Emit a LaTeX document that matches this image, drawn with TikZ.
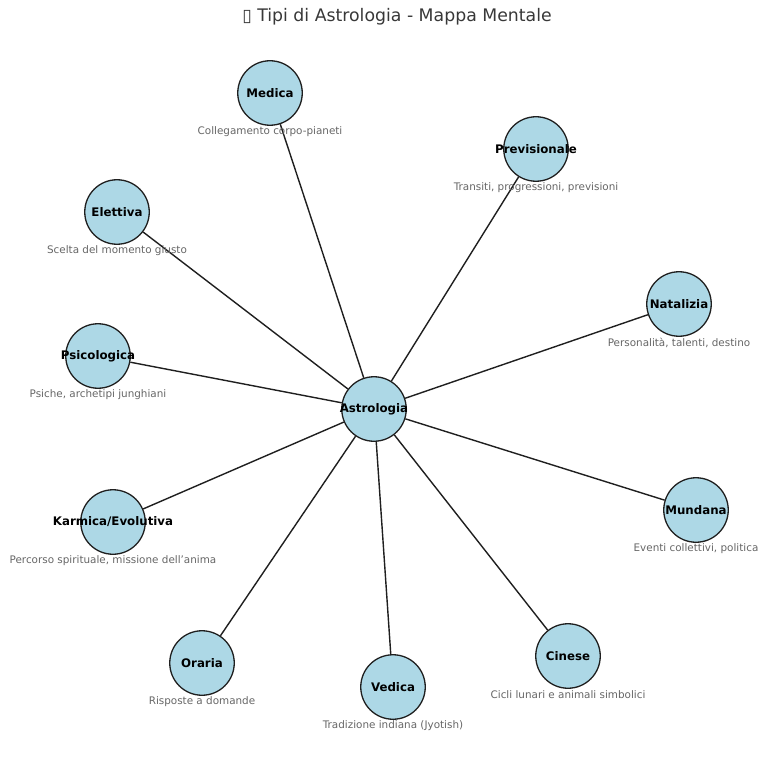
\documentclass[tikz,border=0pt]{standalone}
\usepackage{fontspec}
\setmainfont{DejaVu Sans}
\begin{document}
\begin{tikzpicture}[x=1pt,y=-1pt,
  bub/.style={circle,draw=black!88,line width=1.3pt,fill={rgb,255:red,173;green,216;blue,230},minimum size=64.5pt,inner sep=0pt},
  lab/.style={font=\bfseries\fontsize{11.8}{13}\selectfont,text=black,inner sep=0pt},
  desc/.style={font=\fontsize{10.4}{12}\selectfont,text=black!60,inner sep=0pt},
  link/.style={draw=black!88,line width=1.4pt}]
\useasboundingbox (0,0) rectangle (768,759);
\node[font=\fontsize{17.3}{20}\selectfont,text=black!78] (title) at (397,17) {▯ Tipi di Astrologia - Mappa Mentale};
\node[bub] (c) at (374,409) {};
\foreach \n/\x/\y in {med/270/93, pre/536/149, ele/117/212, nat/679/304, psi/98/356, kar/113/522, mun/696/510, ora/202/663, ved/393/687, cin/568/656}{
  \node[bub] (\n) at (\x,\y) {};
}
\foreach \n in {med,pre,ele,nat,psi,kar,mun,ora,ved,cin}{
  \draw[link] (c) -- (\n);
}
\node[lab] at (c) {Astrologia};
\node[lab] at (med) {Medica};
\node[lab] at (pre) {Previsionale};
\node[lab] at (ele) {Elettiva};
\node[lab] at (nat) {Natalizia};
\node[lab] at (psi) {Psicologica};
\node[lab] at (kar) {Karmica/Evolutiva};
\node[lab] at (mun) {Mundana};
\node[lab] at (ora) {Oraria};
\node[lab] at (ved) {Vedica};
\node[lab] at (cin) {Cinese};
\node[desc] at ([yshift=-38.5pt]med) {Collegamento corpo-pianeti};
\node[desc] at ([yshift=-38.5pt]pre) {Transiti, progressioni, previsioni};
\node[desc] at ([yshift=-38.5pt]ele) {Scelta del momento giusto};
\node[desc] at ([yshift=-38.5pt]nat) {Personalità, talenti, destino};
\node[desc] at ([yshift=-38.5pt]psi) {Psiche, archetipi junghiani};
\node[desc] at ([yshift=-38.5pt]kar) {Percorso spirituale, missione dell’anima};
\node[desc] at ([yshift=-38.5pt]mun) {Eventi collettivi, politica};
\node[desc] at ([yshift=-38.5pt]ora) {Risposte a domande};
\node[desc] at ([yshift=-38.5pt]ved) {Tradizione indiana (Jyotish)};
\node[desc] at ([yshift=-38.5pt]cin) {Cicli lunari e animali simbolici};
\end{tikzpicture}
\end{document}
